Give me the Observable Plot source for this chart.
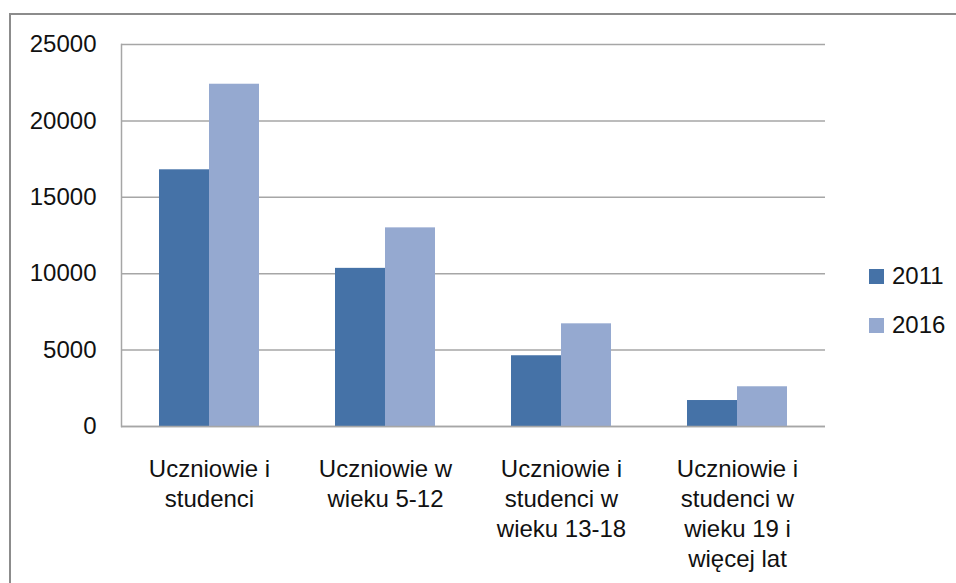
<!DOCTYPE html>
<html>
<head>
<meta charset="utf-8">
<script src="https://cdn.jsdelivr.net/npm/d3@7"></script>
<script src="https://cdn.jsdelivr.net/npm/@observablehq/plot@0.6"></script>
<style>
  html, body { margin: 0; padding: 0; background: #fff; overflow: hidden; }
  #wrap { position: relative; width: 956px; height: 583px; overflow: hidden; background: #fff; }
  #border { position: absolute; left: 9px; top: 13px; width: 2000px; height: 2000px;
            border-top: 2px solid #8c8c8c; border-left: 2px solid #8c8c8c; pointer-events: none; }
  #chart { position: absolute; left: 0; top: 0; }
  .legend { position: absolute; left: 869px; font-family: "Liberation Sans", Arial, sans-serif;
            font-size: 24px; color: #111; display: flex; align-items: center; line-height: 1; }
  .legend .sw { width: 15px; height: 15px; margin-right: 8px; }
</style>
</head>
<body>
<div id="wrap">
  <div id="border"></div>
  <div id="chart"></div>
  <div id="legend"></div>
</div>
<script>
const categories = [
  "Uczniowie i\nstudenci",
  "Uczniowie w\nwieku 5-12",
  "Uczniowie i\nstudenci w\nwieku 13-18",
  "Uczniowie i\nstudenci w\nwieku 19 i\nwięcej lat"
];
const years = ["2011", "2016"];
const values2011 = [16800, 10350, 4630, 1700];
const values2016 = [22400, 13000, 6720, 2600];
const yTicks = [0, 5000, 10000, 15000, 20000, 25000];
const colors = ["#4572a7", "#95a9d0"];

const rows = categories.flatMap((c, i) => [
  {cat: c, year: years[0], value: values2011[i]},
  {cat: c, year: years[1], value: values2016[i]}
]);

const gridColor = "#a6a6a6";

const chart = Plot.plot({
  width: 956,
  height: 583,
  marginLeft: 120,
  marginRight: 130,
  marginTop: 44,
  marginBottom: 157,
  fx: {domain: categories, padding: 0, label: null},
  x: {domain: years, paddingInner: 0, paddingOuter: 0.75, axis: null},
  y: {domain: [0, 25000], label: null},
  color: {domain: years, range: colors},
  style: {fontFamily: "Liberation Sans, Arial, sans-serif", fontSize: "24px", color: "#111", background: "transparent"},
  marks: [
    Plot.gridY(yTicks, {stroke: gridColor, strokeOpacity: 1, strokeWidth: 1.5}),
    Plot.barY(rows, {fx: "cat", x: "year", y: "value", fill: "year", inset: 0}),
    Plot.ruleY([0], {stroke: gridColor, strokeWidth: 1.5}),
    Plot.frame({anchor: "left", stroke: gridColor, strokeWidth: 1.5, facetAnchor: "left"}),
    Plot.axisY(yTicks, {tickSize: 0, tickPadding: 25, label: null, fontSize: 24, tickFormat: d => String(d)}),
    Plot.axisFx({anchor: "bottom", tickSize: 0, tickPadding: 29, fontSize: 24, lineHeight: 1.25, label: null})
  ]
});
document.getElementById("chart").appendChild(chart);

const legend = document.getElementById("legend");
const legendTops = [264, 313];
years.forEach((y, i) => {
  const item = document.createElement("div");
  item.className = "legend";
  item.style.top = legendTops[i] + "px";
  const sw = document.createElement("div");
  sw.className = "sw";
  sw.style.background = colors[i];
  const t = document.createElement("span");
  t.textContent = y;
  item.appendChild(sw);
  item.appendChild(t);
  legend.appendChild(item);
});
</script>
</body>
</html>
